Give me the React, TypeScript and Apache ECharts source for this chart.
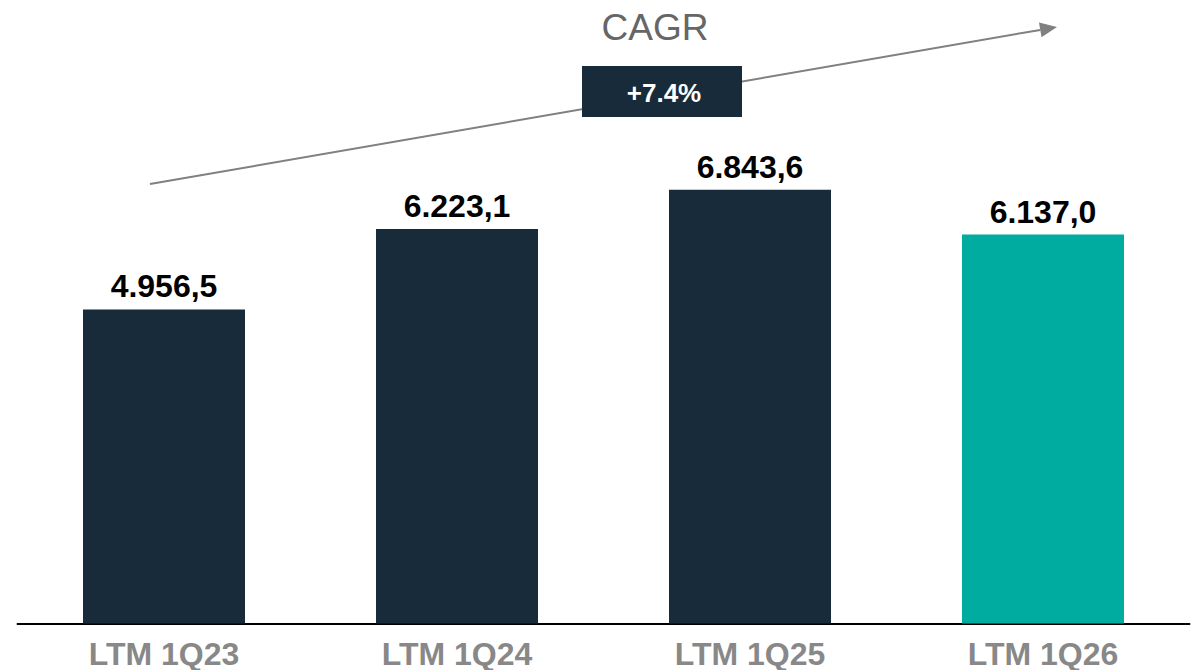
import React, { useEffect, useRef } from "react";
import * as echarts from "echarts";

const categories = ["LTM 1Q23", "LTM 1Q24", "LTM 1Q25", "LTM 1Q26"];
const values = [4956.5, 6223.1, 6843.6, 6137.0];
const barColors = ["#172b3a", "#172b3a", "#172b3a", "#00ac9f"];
const cagrTitle = "CAGR";
const cagrValue = "+7.4%";

const FONT = "Arial, 'Liberation Sans', sans-serif";

function fmt(v: number): string {
  const [intPart, dec] = v.toFixed(1).split(".");
  const withDots = intPart.replace(/\B(?=(\d{3})+(?!\d))/g, ".");
  return withDots + "," + dec;
}

export default function App() {
  const ref = useRef<HTMLDivElement>(null);
  useEffect(() => {
    if (!ref.current) return;
    const chart = echarts.init(ref.current, null, { renderer: "svg" });
    const x1 = 150, y1 = 184, tx = 1057, ty = 27;
    const dx = tx - x1, dy = ty - y1;
    const len = Math.sqrt(dx * dx + dy * dy);
    const ux = dx / len, uy = dy / len;
    const headLen = 17, headHalf = 7.5;
    const bx = tx - ux * headLen, by = ty - uy * headLen;
    const px = -uy * headHalf, py = ux * headHalf;

    chart.setOption({
      animation: false,
      grid: { left: 17.5, right: 7.5, top: 116.5, bottom: 46.5, containLabel: false },
      xAxis: {
        type: "category",
        data: categories,
        axisLine: { show: true, lineStyle: { color: "#000", width: 2 } },
        axisTick: { show: false },
        axisLabel: {
          color: "#888888",
          fontFamily: FONT,
          fontWeight: "bold",
          fontSize: 32,
          margin: 14,
        },
      },
      yAxis: {
        type: "value",
        min: 0,
        max: 8000,
        show: false,
        splitLine: { show: false },
      },
      series: [
        {
          type: "bar",
          barWidth: 162,
          data: values.map((v, i) => ({ value: v, itemStyle: { color: barColors[i] } })),
          label: {
            show: true,
            position: "top",
            distance: 7,
            color: "#000",
            fontFamily: FONT,
            fontWeight: "bold",
            fontSize: 32,
            formatter: (p: any) => fmt(p.value),
          },
        },
      ],
      graphic: [
        {
          type: "line",
          shape: { x1, y1, x2: bx, y2: by },
          style: { stroke: "#808080", lineWidth: 2 },
          z: 10,
        },
        {
          type: "polygon",
          shape: {
            points: [
              [tx, ty],
              [bx + px, by + py],
              [bx - px, by - py],
            ],
          },
          style: { fill: "#808080" },
          z: 10,
        },
        {
          type: "rect",
          shape: { x: 582, y: 66, width: 160, height: 51 },
          style: { fill: "#172b3a" },
          z: 11,
        },
        {
          type: "text",
          x: 664,
          y: 93,
          style: {
            text: cagrValue,
            fill: "#ffffff",
            font: `bold 26px ${FONT}`,
            align: "center",
            verticalAlign: "middle",
          },
          z: 12,
        },
        {
          type: "text",
          x: 655,
          y: 27,
          style: {
            text: cagrTitle,
            fill: "#666666",
            font: `37px ${FONT}`,
            align: "center",
            verticalAlign: "middle",
          },
          z: 12,
        },
      ],
    });
    return () => chart.dispose();
  }, []);
  return (
    <div
      ref={ref}
      style={{ position: "fixed", left: 0, top: 0, width: 1197, height: 670, background: "#fff" }}
    />
  );
}
